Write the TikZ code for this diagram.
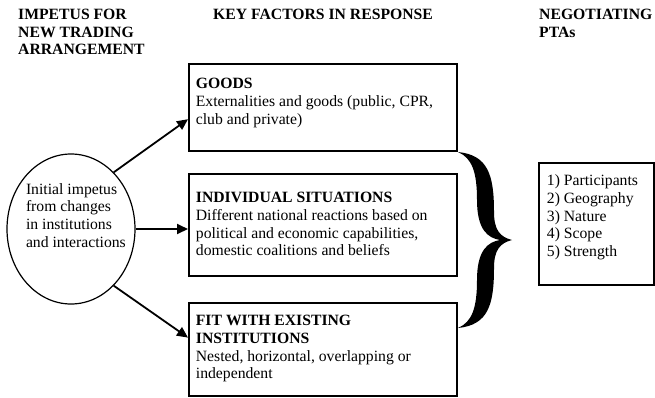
\documentclass[tikz,border=0pt]{standalone}
\usepackage{fontspec}
\setmainfont{Liberation Serif}
\usetikzlibrary{shapes.geometric,arrows.meta}

\tikzset{
  txt/.style={font=\fontsize{15.7}{17.7}\selectfont},
  head/.style={font=\fontsize{15.7}{17.7}\selectfont\bfseries, anchor=north west, inner sep=0pt, align=left},
  factor/.style={txt, draw, line width=1.8pt, anchor=north west, inner xsep=7pt, inner ysep=0pt},
}

\begin{document}
\begin{tikzpicture}[x=1pt, y=-1pt, >={Triangle[length=11pt,width=10pt]}]
            \useasboundingbox (0,0) rectangle (655,397);
            \node[head] at (18,9) (h1) {IMPETUS FOR\\NEW TRADING\\ARRANGEMENT};
            \node[head] at (213,9) (h2) {KEY FACTORS IN RESPONSE};
            \node[head] at (539,9) (h3) {NEGOTIATING\\PTAs};
            \node[draw, ellipse, txt, line width=1.2pt, minimum width=128pt, minimum height=150pt, inner sep=0pt] at (71,229) (i) {\makebox[0pt][l]{\hspace*{-45pt}\raisebox{35pt}[0pt][0pt]{\begin{tabular}[t]{@{}l@{}}Initial impetus\\from changes\\in institutions\\and interactions\end{tabular}}}};
            \node[factor] at (188,63) (g) {\parbox[t][87pt][t]{254pt}{\vspace*{14.5pt}\textbf{GOODS}\\Externalities and goods (public, CPR,\\club and private)}};
            \node[factor] at (188,173) (s) {\parbox[t][102pt][t]{254pt}{\vspace*{18.5pt}\textbf{INDIVIDUAL SITUATIONS}\\Different national reactions based on\\political and economic capabilities,\\domestic coalitions and beliefs}};
            \node[factor] at (188,302) (f) {\parbox[t][93pt][t]{254pt}{\vspace*{12.5pt}\textbf{FIT WITH EXISTING}\\\textbf{INSTITUTIONS}\\Nested, horizontal, overlapping or\\independent}};
            \node[factor, inner xsep=8pt] at (538,162) (p) {\parbox[t][122pt][t]{99pt}{\vspace*{12.1pt}1) Participants\\2) Geography\\3) Nature\\4) Scope\\5) Strength}};
            \draw[->, line width=1.8pt] (i.53) to (g.185);
            \draw[->, line width=1.8pt] (i.east) to (i.east -| s.west);
            \draw[->, line width=1.8pt] (i.-53) to (f.175.5);
            \fill (512,240) .. controls (500,237) and (494,230) .. (494,212)
              .. controls (494,175) and (488,155) .. (458,152)
              .. controls (472,158) and (477,172) .. (477,200)
              .. controls (477,230) and (488,238) .. (500,240)
              .. controls (488,242) and (477,250) .. (477,280)
              .. controls (477,308) and (472,322) .. (458,328)
              .. controls (488,325) and (494,305) .. (494,268)
              .. controls (494,250) and (500,243) .. cycle;
        \end{tikzpicture}
\end{document}
